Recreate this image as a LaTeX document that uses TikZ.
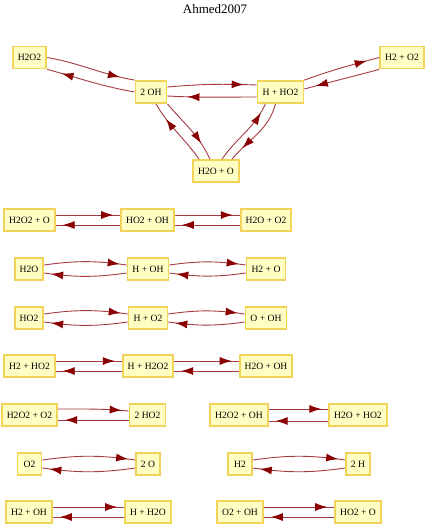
\documentclass[tikz,border=0pt]{standalone}
\usepackage{fontspec}
\setmainfont{Liberation Serif}
\usetikzlibrary{arrows.meta, decorations.markings}
\definecolor{boxfill}{HTML}{FFFFC4}
\definecolor{boxline}{HTML}{F2D35A}
\definecolor{edgeline}{HTML}{A63A42}
\definecolor{tipcol}{HTML}{8B0000}

\begin{document}
\begin{tikzpicture}[
    x=1pt, y=1pt,
    every node/.style={draw=boxline, line width=1.8pt, fill=boxfill, minimum width=24pt, minimum height=22pt, inner xsep=5pt, font=\fontsize{9.6}{11}\selectfont},
    title/.style={draw=none, fill=none, font=\fontsize{13}{15}\selectfont},
    arrow/.style={draw=edgeline, line width=0.9pt, decoration={markings, mark=at position -#1 with {\arrow{Latex[length=12pt, width=8pt, color=tipcol]}}}, postaction={decorate}},
    arrow/.default=7pt
]
\useasboundingbox (0,0) rectangle (427,-525);

% Title
\node[title] (name) at (215,-9) {Ahmed2007};

% Nodes
\node (h2o2) at (29.5,-57.5) {H2O2};
\node (twooh) at (151,-92) {2 OH};
\node (hpho2) at (280.5,-92) {H + HO2};
\node (h2po2) at (402,-57.5) {H2 + O2};
\node (h2opo) at (216,-171) {H2O + O};

\node (h2o2po) at (29.5,-220) {H2O2 + O};
\node (ho2poh) at (147.5,-220) {HO2 + OH};
\node (h2opo2) at (266,-220) {H2O + O2};

\node (h2o) at (29,-269) {H2O};
\node (hpoh) at (148,-269) {H + OH};
\node (h2po) at (266,-269) {H2 + O};

\node (ho2) at (29,-318) {HO2};
\node (hpo2) at (148,-318) {H + O2};
\node (opoh) at (266,-318) {O + OH};

\node (h2pho2) at (29.5,-366) {H2 + HO2};
\node (hph2o2) at (148,-366) {H + H2O2};
\node (h2opoh) at (266,-366) {H2O + OH};

\node (h2o2po2) at (29.5,-415) {H2O2 + O2};
\node (twoho2) at (147.5,-415) {2 HO2};
\node (h2o2poh) at (239,-415) {H2O2 + OH};
\node (h2opho2) at (358,-415) {H2O + HO2};

\node (o2) at (29.5,-464) {O2};
\node (twoo) at (148,-464) {2 O};
\node (h2) at (240,-464) {H2};
\node (twoh) at (358,-464) {2 H};

\node (h2poh) at (29,-512) {H2 + OH};
\node (hph2o) at (148,-512) {H + H2O};
\node (o2poh) at (240,-512) {O2 + OH};
\node (ho2po) at (358,-512) {HO2 + O};

% Arrows (top cycle)
\draw[arrow=15pt] (h2o2.east) to[out=-10,in=170] (twooh.north west);
\draw[arrow=15pt] (twooh.west) to[out=170,in=-15] (h2o2.south east);
\draw[arrow=13pt] ([yshift=5pt]twooh.east) to[out=5,in=178] ([yshift=7pt]hpho2.west);
\draw[arrow=20pt] ([yshift=-5pt]hpho2.west) to[out=180,in=-3] ([yshift=-4pt]twooh.east);
\draw[arrow=13pt] (hpho2.north east) to[out=20,in=195] (h2po2.west);
\draw[arrow=12pt] (h2po2.south west) to[out=195,in=15] ([yshift=3pt]hpho2.east);
\draw[arrow=18pt] (twooh.south east) to[out=-50,in=115] ([xshift=-6pt]h2opo.north);
\draw[arrow=18pt] ([xshift=-17pt]h2opo.north) to[out=125,in=-60] ([xshift=5pt]twooh.south);
\draw[arrow=10pt] ([xshift=6pt]h2opo.north) to[out=55,in=-115] ([xshift=-15pt]hpho2.south);
\draw[arrow=15pt] ([xshift=-5pt]hpho2.south) to[out=-105,in=50] ([xshift=16pt]h2opo.north);

% Arrows (rows)
\draw[arrow] ([yshift=5pt]h2o2po.east) -- ([yshift=5pt]ho2poh.west);
\draw[arrow] ([yshift=-5pt]ho2poh.west) -- ([yshift=-5pt]h2o2po.east);
\draw[arrow] ([yshift=5pt]ho2poh.east) -- ([yshift=5pt]h2opo2.west);
\draw[arrow] ([yshift=-5pt]h2opo2.west) -- ([yshift=-5pt]ho2poh.east);

\draw[arrow] ([yshift=4pt]h2o.east) to[out=8,in=172] ([yshift=4pt]hpoh.west);
\draw[arrow] ([yshift=-4pt]hpoh.west) to[out=188,in=-8] ([yshift=-4pt]h2o.east);
\draw[arrow] ([yshift=4pt]hpoh.east) to[out=8,in=172] ([yshift=4pt]h2po.west);
\draw[arrow] ([yshift=-4pt]h2po.west) to[out=188,in=-8] ([yshift=-4pt]hpoh.east);

\draw[arrow] ([yshift=4pt]ho2.east) to[out=8,in=172] ([yshift=4pt]hpo2.west);
\draw[arrow] ([yshift=-4pt]hpo2.west) to[out=188,in=-8] ([yshift=-4pt]ho2.east);
\draw[arrow] ([yshift=4pt]hpo2.east) to[out=8,in=172] ([yshift=4pt]opoh.west);
\draw[arrow] ([yshift=-4pt]opoh.west) to[out=188,in=-8] ([yshift=-4pt]hpo2.east);

\draw[arrow] ([yshift=5pt]h2pho2.east) -- ([yshift=5pt]hph2o2.west);
\draw[arrow] ([yshift=-5pt]hph2o2.west) -- ([yshift=-5pt]h2pho2.east);
\draw[arrow] ([yshift=5pt]hph2o2.east) -- ([yshift=5pt]h2opoh.west);
\draw[arrow] ([yshift=-5pt]h2opoh.west) -- ([yshift=-5pt]hph2o2.east);

\draw[arrow] ([yshift=6pt]h2o2po2.east) to[out=0,in=175] ([yshift=4pt]twoho2.west);
\draw[arrow] ([yshift=-5pt]twoho2.west) -- ([yshift=-5pt]h2o2po2.east);
\draw[arrow] ([yshift=6pt]h2o2poh.east) -- ([yshift=6pt]h2opho2.west);
\draw[arrow] ([yshift=-6pt]h2opho2.west) -- ([yshift=-6pt]h2o2poh.east);

\draw[arrow] ([yshift=4pt]o2.east) to[out=8,in=172] ([yshift=4pt]twoo.west);
\draw[arrow] ([yshift=-4pt]twoo.west) to[out=188,in=-8] ([yshift=-4pt]o2.east);
\draw[arrow] ([yshift=4pt]h2.east) to[out=8,in=172] ([yshift=4pt]twoh.west);
\draw[arrow] ([yshift=-4pt]twoh.west) to[out=188,in=-8] ([yshift=-4pt]h2.east);

\draw[arrow] ([yshift=5pt]h2poh.east) -- ([yshift=5pt]hph2o.west);
\draw[arrow] ([yshift=-5pt]hph2o.west) -- ([yshift=-5pt]h2poh.east);
\draw[arrow] ([yshift=5pt]o2poh.east) -- ([yshift=5pt]ho2po.west);
\draw[arrow] ([yshift=-5pt]ho2po.west) -- ([yshift=-5pt]o2poh.east);

\end{tikzpicture}
\end{document}
